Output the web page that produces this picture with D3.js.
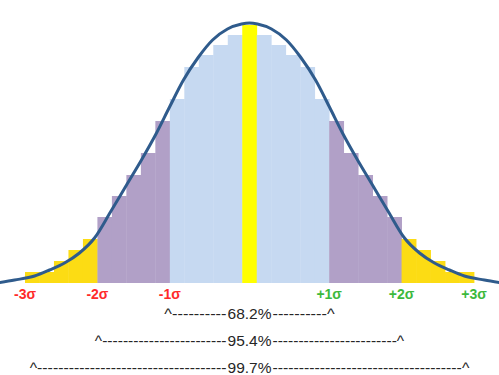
<!DOCTYPE html>
<html>
<head>
<meta charset="utf-8">
<script src="https://cdn.jsdelivr.net/npm/d3@7"></script>
<style>
  body { margin: 0; background: #fff; }
  svg { display: block; }
</style>
</head>
<body>
<svg id="chart" width="499" height="375"></svg>
<script>
// Data
// histogram bars, left to right, bar index -15 .. 15
const barIndex = [-15, -14, -13, -12, -11, -10, -9, -8, -7, -6, -5, -4, -3, -2, -1, 0,
                  1, 2, 3, 4, 5, 6, 7, 8, 9, 10, 11, 12, 13, 14, 15];
const barHeight = [11, 11, 22, 33, 44, 66, 87, 108, 130, 162, 184, 216, 228, 238, 248, 258,
                   248, 238, 228, 216, 184, 162, 130, 108, 87, 66, 44, 33, 22, 11, 11];

// bell curve (x in bar units)
const curveX = [-17.26, -16.22, -14.84, -13.81, -12.77, -11.74, -10.7, -9.6, -8.49, -7.46, -6.42,
                -5.52, -4.56, -3.52, -2.55, -1.52, -0.55, 0, 0.55, 1.52, 2.55, 3.52, 4.56, 5.52,
                6.42, 7.46, 8.49, 9.6, 10.7, 11.74, 12.77, 13.81, 14.84, 16.22, 17.26];
const curveY = [0.5, 3, 7, 13, 20, 30, 45, 71, 98, 123, 150,
                176, 203, 226, 243, 254, 259, 260, 259, 254, 243, 226, 203, 176,
                150, 123, 98, 71, 45, 30, 20, 13, 7, 3, 0.5];

// sigma tick labels
const sigmaLabels = ["-3σ", "-2σ", "-1σ", "+1σ", "+2σ", "+3σ"];
const sigmaPos = [-15.5, -10.5, -5.5, 5.5, 10.5, 15.5];

// coverage brackets
const rangeLabels = ["68.2%", "95.4%", "99.7%"];
const rangeSpan = [5.6, 10.4, 14.9];

const svg = d3.select("#chart");

const x = d3.scaleLinear().domain([-15.5, 15.5]).range([25, 474]);
const y = d3.scaleLinear().domain([0, 260]).range([283, 23]);

function barColor(i) {
	const a = Math.abs(i);
	if (a === 0) return "#ffff00";
	if (a <= 5) return "#c6d9f1";
	if (a <= 10) return "#b1a0c7";
	return "#fcdc14";
}

const bars = barIndex.map((i, k) => ({i: i, h: barHeight[k]}));

svg.append("g")
	.selectAll("rect")
	.data(bars)
	.enter()
	.append("rect")
		.attr("x", d => x(d.i - 0.5))
		.attr("width", d => x(d.i + 0.5) - x(d.i - 0.5) + 0.4)
		.attr("y", d => y(d.h))
		.attr("height", d => y(0) - y(d.h))
		.attr("fill", d => barColor(d.i));

const line = d3.line()
	.x(d => x(d[0]))
	.y(d => y(d[1]))
	.curve(d3.curveMonotoneX);

svg.append("path")
	.datum(curveX.map((v, k) => [v, curveY[k]]))
	.attr("d", line)
	.attr("fill", "none")
	.attr("stroke", "#2f5b8c")
	.attr("stroke-width", 3);

// sigma labels
svg.append("g")
	.selectAll("text")
	.data(sigmaLabels)
	.enter()
	.append("text")
		.text(d => d)
		.attr("x", (d, k) => x(sigmaPos[k]))
		.attr("y", 299)
		.attr("text-anchor", "middle")
		.attr("font-family", "Liberation Sans, Arial, sans-serif")
		.attr("font-weight", "bold")
		.attr("font-size", 14)
		.attr("fill", d => d[0] === "-" ? "#ff2a2a" : "#3cb93c");

// ^-----xx%-----^ rows
const font = "Liberation Sans, Arial, sans-serif";
const cx = x(0);
rangeLabels.forEach((lab, k) => {
	const baseY = 319 + k * 27;
	const g = svg.append("g").attr("fill", "#262626")
		.attr("font-family", font).attr("font-size", 15.5);

	const mid = g.append("text").text(lab)
		.attr("x", cx).attr("y", baseY).attr("text-anchor", "middle");
	const half = mid.node().getComputedTextLength() / 2;

	const left = x(-rangeSpan[k]) - 4;
	const right = x(rangeSpan[k]) + 4;
	const w = (cx - half - 1) - left;
	const nDash = Math.round((w - 8) / 5.2);

	g.append("text").text("^" + "-".repeat(nDash))
		.attr("x", left).attr("y", baseY)
		.attr("textLength", w).attr("lengthAdjust", "spacingAndGlyphs");

	g.append("text").text("-".repeat(nDash) + "^")
		.attr("x", cx + half + 1).attr("y", baseY)
		.attr("textLength", right - (cx + half + 1)).attr("lengthAdjust", "spacingAndGlyphs");
});
</script>
</body>
</html>
